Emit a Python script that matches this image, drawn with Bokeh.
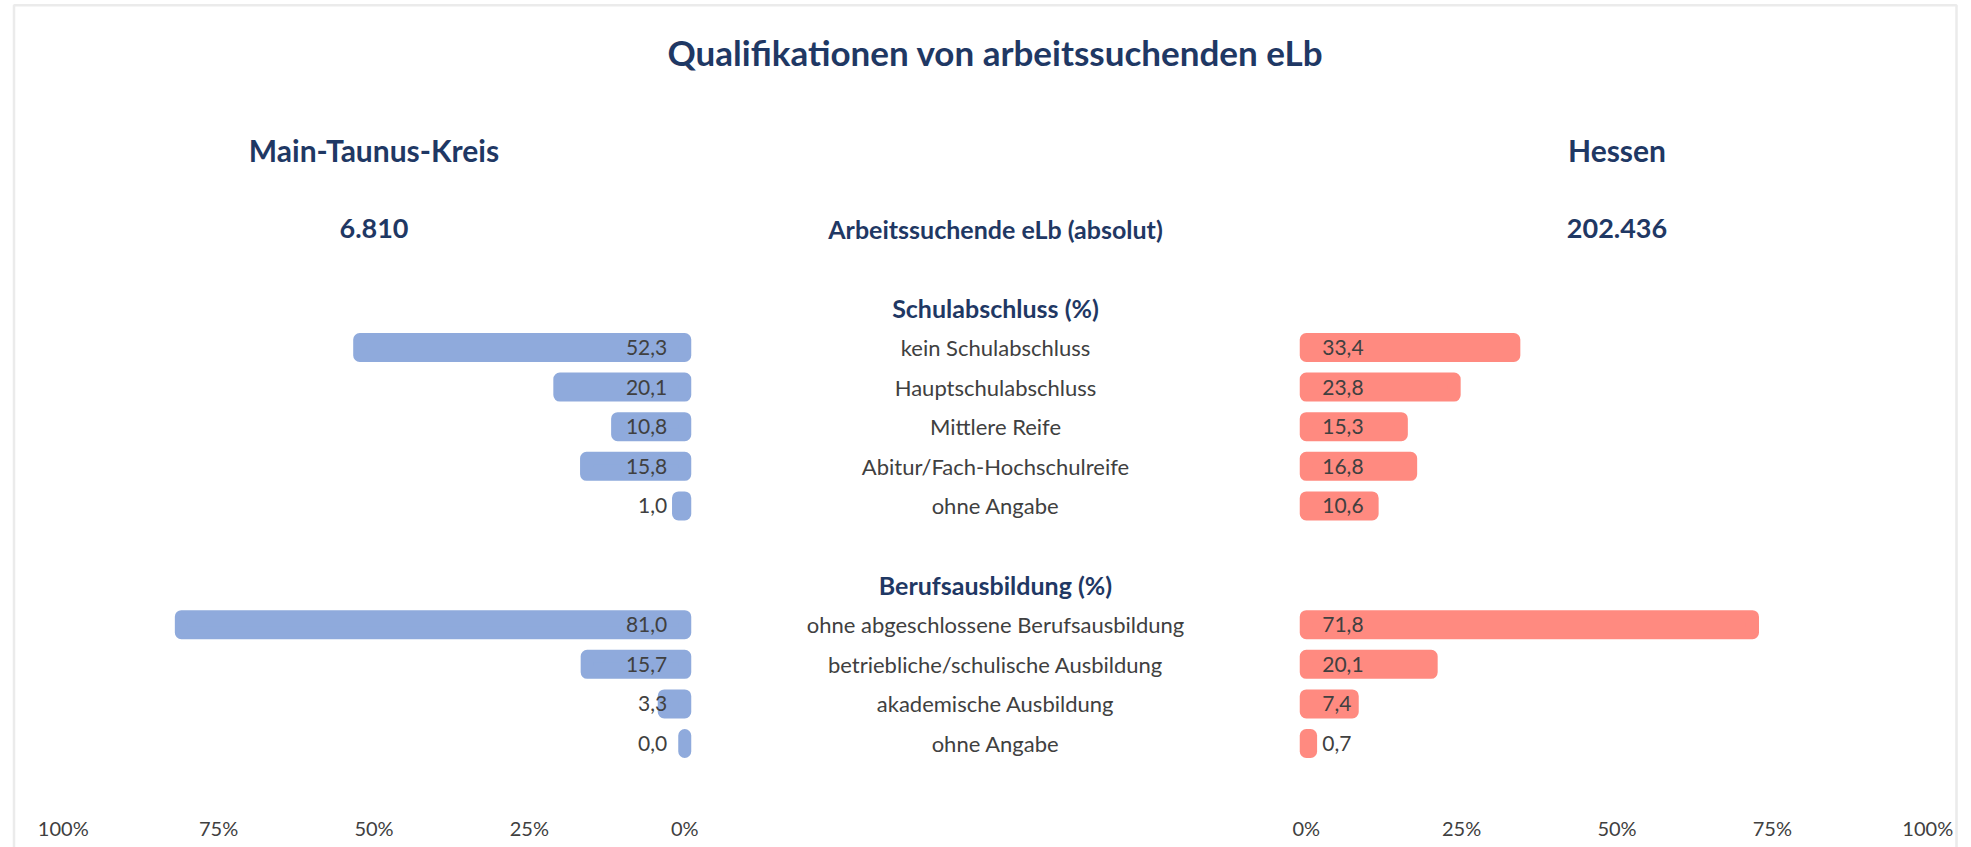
from bokeh.plotting import figure
from bokeh.models import Range1d, FixedTicker, CustomJSTickFormatter, ColumnDataSource, BoxAnnotation
from bokeh.core.properties import value
from bokeh.embed import file_html
from bokeh.resources import INLINE

# ---------------- data ----------------
title = "Qualifikationen von arbeitssuchenden eLb"
regions = ["Main-Taunus-Kreis", "Hessen"]
totals = [6810, 202436]
total_label = "Arbeitssuchende eLb (absolut)"

schul_header = "Schulabschluss (%)"
schul_cats = ["kein Schulabschluss", "Hauptschulabschluss", "Mittlere Reife",
              "Abitur/Fach-Hochschulreife", "ohne Angabe"]
mtk_schul = [52.3, 20.1, 10.8, 15.8, 1.0]
hes_schul = [33.4, 23.8, 15.3, 16.8, 10.6]

beruf_header = "Berufsausbildung (%)"
beruf_cats = ["ohne abgeschlossene Berufsausbildung", "betriebliche/schulische Ausbildung",
              "akademische Ausbildung", "ohne Angabe"]
mtk_beruf = [81.0, 15.7, 3.3, 0.0]
hes_beruf = [71.8, 20.1, 7.4, 0.7]

tick_values = [0, 25, 50, 75, 100]

# ---------------- layout constants ----------------
W, H = 1971, 847
PX_PER_PCT = 6.215
CENTER_PX = 995.0
ROW_PX = 39.6
ROW0_PX = 347.0
AXIS_PX = 811
OFF = 50.0          # distance (in % units) from centre to each zero line
BAR_H = 16 / ROW_PX
PAD = 13            # rounded padding around bars (px)

FONT = value("Lato")
NAVY = "#1F3864"
GREY = "#404040"
BLUE = "#8FAADC"
SALMON = "#FF8A80"


def xd(px):
    return (px - CENTER_PX) / PX_PER_PCT


def yd(py):
    return (py - ROW0_PX) / ROW_PX


def de(v):
    return f"{v:.1f}".replace(".", ",")


def de_int(n):
    return f"{n:,}".replace(",", ".")


p = figure(width=W, height=H,
           x_range=Range1d(xd(0), xd(W)),
           y_range=Range1d(yd(H), yd(0)),
           output_backend="svg", toolbar_location=None,
           y_axis_location=None,
           min_border_left=0, min_border_right=0, min_border_top=0,
           min_border_bottom=0,
           outline_line_color=None, background_fill_color="white",
           border_fill_color="white")
p.grid.visible = False

# frame border (decoration)
p.add_layout(BoxAnnotation(left=xd(13.5), right=xd(1956), top=yd(4.7), bottom=yd(2000),
                           fill_color=None, fill_alpha=0, line_color="#BEBEBE",
                           line_width=2.5))

# rows
schul_rows = list(range(len(schul_cats)))
schul_head_row = -1
beruf_head_row = len(schul_cats) + 1
beruf_rows = [beruf_head_row + 1 + i for i in range(len(beruf_cats))]
total_row = -3
region_row = -5
title_row = yd(51)

rows = schul_rows + beruf_rows
mtk = mtk_schul + mtk_beruf
hes = hes_schul + hes_beruf
cats = schul_cats + beruf_cats

left_src = ColumnDataSource(dict(y=rows, left=[-OFF - v for v in mtk], right=[-OFF] * len(mtk),
                                 label=[de(v) for v in mtk], x=[-OFF] * len(mtk)))
right_src = ColumnDataSource(dict(y=rows, left=[OFF] * len(hes), right=[OFF + v for v in hes],
                                  label=[de(v) for v in hes], x=[OFF] * len(hes)))

p.hbar(y="y", left="left", right="right", height=BAR_H, source=left_src,
       fill_color=BLUE, line_color=BLUE, line_width=PAD, line_join="round")
p.hbar(y="y", left="left", right="right", height=BAR_H, source=right_src,
       fill_color=SALMON, line_color=SALMON, line_width=PAD, line_join="round")

p.text(x="x", y="y", text="label", source=left_src, x_offset=-17.5,
       text_align="right", text_baseline="middle", text_font=FONT,
       text_font_size="21px", text_color=GREY)
p.text(x="x", y="y", text="label", source=right_src, x_offset=16,
       text_align="left", text_baseline="middle", text_font=FONT,
       text_font_size="21px", text_color=GREY)

# category labels
p.text(x=[0] * len(cats), y=rows, text=cats, text_align="center", text_baseline="middle",
       text_font=FONT, text_font_size="22px", text_color=GREY)

# section headers
p.text(x=[0, 0], y=[schul_head_row, beruf_head_row], text=[schul_header, beruf_header],
       text_align="center", text_baseline="middle", text_font=FONT, text_font_size="25px",
       text_font_style="bold", text_color=NAVY)
p.text(x=[0], y=[total_row], text=[total_label], text_align="center", text_baseline="middle",
       text_font=FONT, text_font_size="25px", text_font_style="bold", text_color=NAVY)

# region names and totals
region_x = [-OFF - 50, OFF + 50]
p.text(x=region_x, y=[region_row] * 2, text=regions, text_align="center",
       text_baseline="middle", text_font=FONT, text_font_size="30px",
       text_font_style="bold", text_color=NAVY)
p.text(x=region_x, y=[total_row] * 2, text=[de_int(n) for n in totals], text_align="center",
       text_baseline="middle", text_font=FONT, text_font_size="27px",
       text_font_style="bold", text_color=NAVY)

# title
p.text(x=[0], y=[title_row], text=[title], text_align="center", text_baseline="middle",
       text_font=FONT, text_font_size="35px", text_font_style="bold", text_color=NAVY)

# axis (drawn at a fixed location inside the frame)
ax = p.xaxis[0]
ax.fixed_location = yd(AXIS_PX)
ax.ticker = FixedTicker(ticks=[-OFF - t for t in tick_values] + [OFF + t for t in tick_values])
ax.formatter = CustomJSTickFormatter(args=dict(off=OFF),
                                     code="return Math.round(Math.abs(tick) - off) + '%';")
ax.axis_line_color = None
ax.major_tick_line_color = None
ax.minor_tick_line_color = None
ax.major_tick_out = 0
ax.major_tick_in = 0
ax.major_label_standoff = 4
ax.major_label_text_font = "Lato"
ax.major_label_text_font_size = "20px"
ax.major_label_text_color = GREY

open("out.html", "w").write(file_html(p, INLINE))
